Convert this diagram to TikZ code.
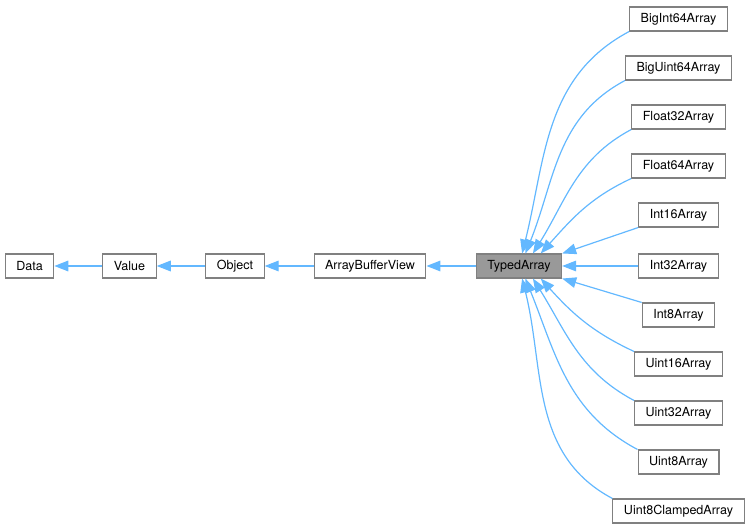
\documentclass[tikz,border=0pt]{standalone}
\usepackage{fontspec}
\setmainfont{TeX Gyre Heros}
\usepackage{tikz}
\usetikzlibrary{arrows.meta}
\usetikzlibrary{positioning}

\definecolor{edgeblue}{HTML}{63B8FF}
\definecolor{boxline}{HTML}{808080}
\definecolor{curfill}{HTML}{999999}

\begin{document}
\begin{tikzpicture}[
    x=0.75pt, y=-0.75pt,
every node/.style = {font=\fontsize{9.4}{11}\selectfont},
          box/.style = {draw=boxline, line width=0.8pt, fill=white,
                        minimum height=18pt, inner xsep=8.3pt, inner ysep=0pt},
         edge/.style = {draw=edgeblue, line width=0.9pt,
                        {Triangle[length=10.5pt,width=8pt]}-}]
\useasboundingbox (0,0) rectangle (752,530);
% main chain
\node[box, fill=curfill] (typed)  at (519,266)   {TypedArray};
\node[box]               (abv)    at (370,266)   {ArrayBufferView};
\node[box]               (object) at (235,266)   {Object};
\node[box]               (value)  at (129.5,266) {Value};
\node[box]               (data)   at (29.5,266)  {Data};
    \draw[edge] (data)   -- (value);
    \draw[edge] (value)  -- (object);
    \draw[edge] (object) -- (abv);
    \draw[edge] (abv)    -- (typed);
% derived arrays
\node[box] (bi64)  at (678.5, 19) {BigInt64Array};
\node[box] (bu64)  at (678.5, 68) {BigUint64Array};
\node[box] (f32)   at (678.5,117) {Float32Array};
\node[box] (f64)   at (678.5,166) {Float64Array};
\node[box] (i16)   at (678.5,215) {Int16Array};
\node[box] (i32)   at (678.5,266) {Int32Array};
\node[box] (i8)    at (678.5,315) {Int8Array};
\node[box] (u16)   at (678.5,364) {Uint16Array};
\node[box] (u32)   at (678.5,413) {Uint32Array};
\node[box] (u8)    at (678.5,462) {Uint8Array};
\node[box] (u8c)   at (678.5,511) {Uint8ClampedArray};
    \draw[edge] (typed.76)  to[out=76, in=208]  (bi64.south west);
    \draw[edge] (typed.63)  to[out=68, in=208]  (bu64.south west);
    \draw[edge] (typed.42)  to[out=58, in=208]  (f32.south west);
    \draw[edge] (typed.30)  to[out=48, in=205]  (f64.south west);
    \draw[edge] (typed.north east) -- (i16.south west);
    \draw[edge] (typed.east)       -- (i32.west);
    \draw[edge] (typed.south east) -- (i8.north west);
    \draw[edge] (typed.-30) to[out=-48, in=155]  (u16.north west);
    \draw[edge] (typed.-42) to[out=-58, in=152]  (u32.north west);
    \draw[edge] (typed.-63) to[out=-68, in=152]  (u8.north west);
    \draw[edge] (typed.-76) to[out=-76, in=152]  (u8c.north west);
\end{tikzpicture}
\end{document}
